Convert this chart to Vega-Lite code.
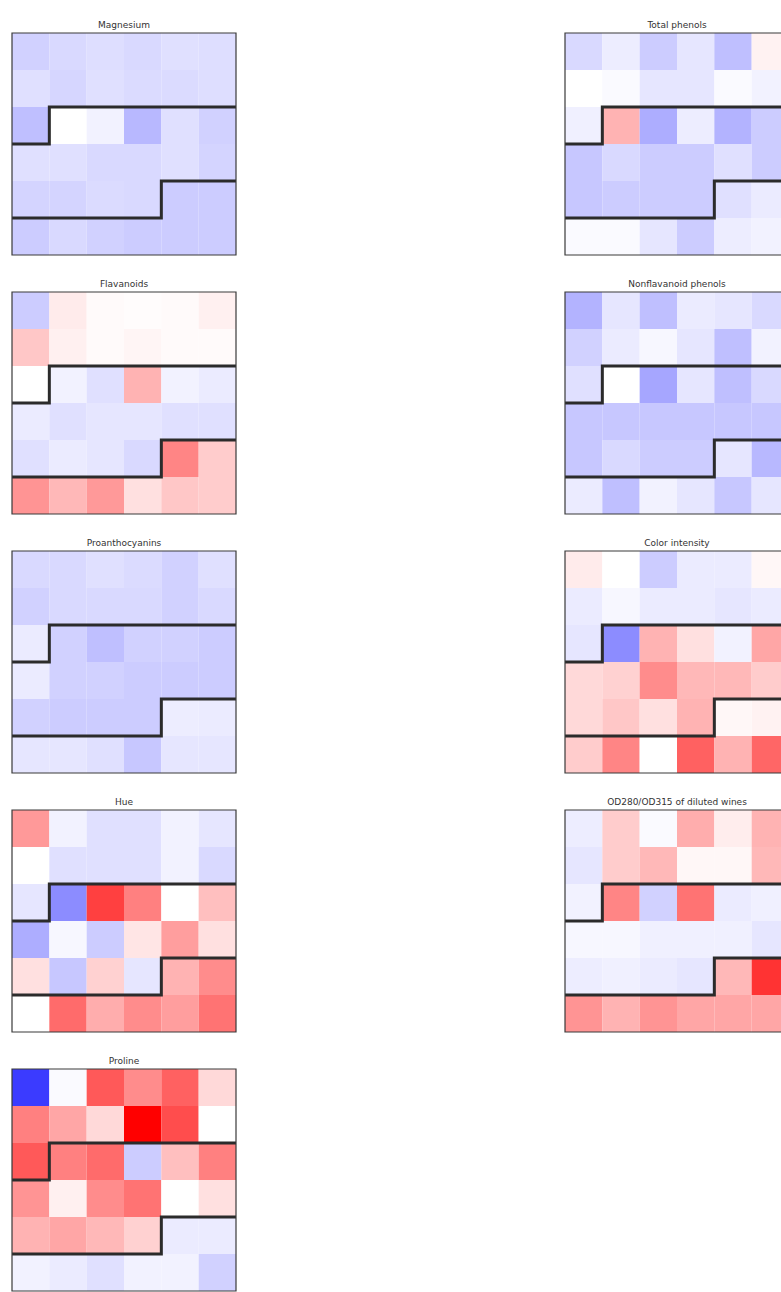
{
  "$schema": "https://vega.github.io/schema/vega-lite/v6.json",
  "padding": {"left": 6, "top": 21, "right": 0, "bottom": 0},
  "bounds": "flush",
  "background": "white",
  "config": {"view": {"stroke": null}},
  "data": {"values": [
      {"feature":"Magnesium","row":0,"col":0,"value":-0.18},{"feature":"Magnesium","row":0,"col":1,"value":-0.15},{"feature":"Magnesium","row":0,"col":2,"value":-0.13},{"feature":"Magnesium","row":0,"col":3,"value":-0.15},{"feature":"Magnesium","row":0,"col":4,"value":-0.12},{"feature":"Magnesium","row":0,"col":5,"value":-0.13},
      {"feature":"Magnesium","row":1,"col":0,"value":-0.12},{"feature":"Magnesium","row":1,"col":1,"value":-0.16},{"feature":"Magnesium","row":1,"col":2,"value":-0.12},{"feature":"Magnesium","row":1,"col":3,"value":-0.14},{"feature":"Magnesium","row":1,"col":4,"value":-0.14},{"feature":"Magnesium","row":1,"col":5,"value":-0.13},
      {"feature":"Magnesium","row":2,"col":0,"value":-0.25},{"feature":"Magnesium","row":2,"col":1,"value":0.0},{"feature":"Magnesium","row":2,"col":2,"value":-0.05},{"feature":"Magnesium","row":2,"col":3,"value":-0.28},{"feature":"Magnesium","row":2,"col":4,"value":-0.12},{"feature":"Magnesium","row":2,"col":5,"value":-0.18},
      {"feature":"Magnesium","row":3,"col":0,"value":-0.12},{"feature":"Magnesium","row":3,"col":1,"value":-0.12},{"feature":"Magnesium","row":3,"col":2,"value":-0.15},{"feature":"Magnesium","row":3,"col":3,"value":-0.15},{"feature":"Magnesium","row":3,"col":4,"value":-0.12},{"feature":"Magnesium","row":3,"col":5,"value":-0.17},
      {"feature":"Magnesium","row":4,"col":0,"value":-0.17},{"feature":"Magnesium","row":4,"col":1,"value":-0.17},{"feature":"Magnesium","row":4,"col":2,"value":-0.14},{"feature":"Magnesium","row":4,"col":3,"value":-0.15},{"feature":"Magnesium","row":4,"col":4,"value":-0.2},{"feature":"Magnesium","row":4,"col":5,"value":-0.2},
      {"feature":"Magnesium","row":5,"col":0,"value":-0.2},{"feature":"Magnesium","row":5,"col":1,"value":-0.15},{"feature":"Magnesium","row":5,"col":2,"value":-0.18},{"feature":"Magnesium","row":5,"col":3,"value":-0.2},{"feature":"Magnesium","row":5,"col":4,"value":-0.2},{"feature":"Magnesium","row":5,"col":5,"value":-0.2},

      {"feature":"Total phenols","row":0,"col":0,"value":-0.15},{"feature":"Total phenols","row":0,"col":1,"value":-0.07},{"feature":"Total phenols","row":0,"col":2,"value":-0.2},{"feature":"Total phenols","row":0,"col":3,"value":-0.1},{"feature":"Total phenols","row":0,"col":4,"value":-0.25},{"feature":"Total phenols","row":0,"col":5,"value":0.05},
      {"feature":"Total phenols","row":1,"col":0,"value":0.0},{"feature":"Total phenols","row":1,"col":1,"value":-0.02},{"feature":"Total phenols","row":1,"col":2,"value":-0.1},{"feature":"Total phenols","row":1,"col":3,"value":-0.1},{"feature":"Total phenols","row":1,"col":4,"value":-0.02},{"feature":"Total phenols","row":1,"col":5,"value":-0.05},
      {"feature":"Total phenols","row":2,"col":0,"value":-0.06},{"feature":"Total phenols","row":2,"col":1,"value":0.3},{"feature":"Total phenols","row":2,"col":2,"value":-0.32},{"feature":"Total phenols","row":2,"col":3,"value":-0.07},{"feature":"Total phenols","row":2,"col":4,"value":-0.3},{"feature":"Total phenols","row":2,"col":5,"value":-0.2},
      {"feature":"Total phenols","row":3,"col":0,"value":-0.22},{"feature":"Total phenols","row":3,"col":1,"value":-0.15},{"feature":"Total phenols","row":3,"col":2,"value":-0.2},{"feature":"Total phenols","row":3,"col":3,"value":-0.2},{"feature":"Total phenols","row":3,"col":4,"value":-0.12},{"feature":"Total phenols","row":3,"col":5,"value":-0.2},
      {"feature":"Total phenols","row":4,"col":0,"value":-0.22},{"feature":"Total phenols","row":4,"col":1,"value":-0.2},{"feature":"Total phenols","row":4,"col":2,"value":-0.2},{"feature":"Total phenols","row":4,"col":3,"value":-0.2},{"feature":"Total phenols","row":4,"col":4,"value":-0.12},{"feature":"Total phenols","row":4,"col":5,"value":-0.08},
      {"feature":"Total phenols","row":5,"col":0,"value":-0.02},{"feature":"Total phenols","row":5,"col":1,"value":-0.02},{"feature":"Total phenols","row":5,"col":2,"value":-0.1},{"feature":"Total phenols","row":5,"col":3,"value":-0.2},{"feature":"Total phenols","row":5,"col":4,"value":-0.07},{"feature":"Total phenols","row":5,"col":5,"value":-0.05},

      {"feature":"Flavanoids","row":0,"col":0,"value":-0.2},{"feature":"Flavanoids","row":0,"col":1,"value":0.08},{"feature":"Flavanoids","row":0,"col":2,"value":0.02},{"feature":"Flavanoids","row":0,"col":3,"value":0.01},{"feature":"Flavanoids","row":0,"col":4,"value":0.02},{"feature":"Flavanoids","row":0,"col":5,"value":0.06},
      {"feature":"Flavanoids","row":1,"col":0,"value":0.22},{"feature":"Flavanoids","row":1,"col":1,"value":0.06},{"feature":"Flavanoids","row":1,"col":2,"value":0.02},{"feature":"Flavanoids","row":1,"col":3,"value":0.04},{"feature":"Flavanoids","row":1,"col":4,"value":0.02},{"feature":"Flavanoids","row":1,"col":5,"value":0.02},
      {"feature":"Flavanoids","row":2,"col":0,"value":0.0},{"feature":"Flavanoids","row":2,"col":1,"value":-0.05},{"feature":"Flavanoids","row":2,"col":2,"value":-0.12},{"feature":"Flavanoids","row":2,"col":3,"value":0.3},{"feature":"Flavanoids","row":2,"col":4,"value":-0.05},{"feature":"Flavanoids","row":2,"col":5,"value":-0.08},
      {"feature":"Flavanoids","row":3,"col":0,"value":-0.08},{"feature":"Flavanoids","row":3,"col":1,"value":-0.12},{"feature":"Flavanoids","row":3,"col":2,"value":-0.1},{"feature":"Flavanoids","row":3,"col":3,"value":-0.1},{"feature":"Flavanoids","row":3,"col":4,"value":-0.12},{"feature":"Flavanoids","row":3,"col":5,"value":-0.12},
      {"feature":"Flavanoids","row":4,"col":0,"value":-0.12},{"feature":"Flavanoids","row":4,"col":1,"value":-0.08},{"feature":"Flavanoids","row":4,"col":2,"value":-0.1},{"feature":"Flavanoids","row":4,"col":3,"value":-0.15},{"feature":"Flavanoids","row":4,"col":4,"value":0.48},{"feature":"Flavanoids","row":4,"col":5,"value":0.2},
      {"feature":"Flavanoids","row":5,"col":0,"value":0.42},{"feature":"Flavanoids","row":5,"col":1,"value":0.28},{"feature":"Flavanoids","row":5,"col":2,"value":0.4},{"feature":"Flavanoids","row":5,"col":3,"value":0.12},{"feature":"Flavanoids","row":5,"col":4,"value":0.22},{"feature":"Flavanoids","row":5,"col":5,"value":0.2},

      {"feature":"Nonflavanoid phenols","row":0,"col":0,"value":-0.3},{"feature":"Nonflavanoid phenols","row":0,"col":1,"value":-0.1},{"feature":"Nonflavanoid phenols","row":0,"col":2,"value":-0.25},{"feature":"Nonflavanoid phenols","row":0,"col":3,"value":-0.08},{"feature":"Nonflavanoid phenols","row":0,"col":4,"value":-0.1},{"feature":"Nonflavanoid phenols","row":0,"col":5,"value":-0.15},
      {"feature":"Nonflavanoid phenols","row":1,"col":0,"value":-0.18},{"feature":"Nonflavanoid phenols","row":1,"col":1,"value":-0.08},{"feature":"Nonflavanoid phenols","row":1,"col":2,"value":-0.03},{"feature":"Nonflavanoid phenols","row":1,"col":3,"value":-0.1},{"feature":"Nonflavanoid phenols","row":1,"col":4,"value":-0.25},{"feature":"Nonflavanoid phenols","row":1,"col":5,"value":-0.05},
      {"feature":"Nonflavanoid phenols","row":2,"col":0,"value":-0.12},{"feature":"Nonflavanoid phenols","row":2,"col":1,"value":0.0},{"feature":"Nonflavanoid phenols","row":2,"col":2,"value":-0.35},{"feature":"Nonflavanoid phenols","row":2,"col":3,"value":-0.1},{"feature":"Nonflavanoid phenols","row":2,"col":4,"value":-0.25},{"feature":"Nonflavanoid phenols","row":2,"col":5,"value":-0.15},
      {"feature":"Nonflavanoid phenols","row":3,"col":0,"value":-0.22},{"feature":"Nonflavanoid phenols","row":3,"col":1,"value":-0.22},{"feature":"Nonflavanoid phenols","row":3,"col":2,"value":-0.22},{"feature":"Nonflavanoid phenols","row":3,"col":3,"value":-0.22},{"feature":"Nonflavanoid phenols","row":3,"col":4,"value":-0.22},{"feature":"Nonflavanoid phenols","row":3,"col":5,"value":-0.22},
      {"feature":"Nonflavanoid phenols","row":4,"col":0,"value":-0.22},{"feature":"Nonflavanoid phenols","row":4,"col":1,"value":-0.15},{"feature":"Nonflavanoid phenols","row":4,"col":2,"value":-0.2},{"feature":"Nonflavanoid phenols","row":4,"col":3,"value":-0.2},{"feature":"Nonflavanoid phenols","row":4,"col":4,"value":-0.1},{"feature":"Nonflavanoid phenols","row":4,"col":5,"value":-0.28},
      {"feature":"Nonflavanoid phenols","row":5,"col":0,"value":-0.08},{"feature":"Nonflavanoid phenols","row":5,"col":1,"value":-0.25},{"feature":"Nonflavanoid phenols","row":5,"col":2,"value":-0.05},{"feature":"Nonflavanoid phenols","row":5,"col":3,"value":-0.1},{"feature":"Nonflavanoid phenols","row":5,"col":4,"value":-0.22},{"feature":"Nonflavanoid phenols","row":5,"col":5,"value":-0.1},

      {"feature":"Proanthocyanins","row":0,"col":0,"value":-0.15},{"feature":"Proanthocyanins","row":0,"col":1,"value":-0.15},{"feature":"Proanthocyanins","row":0,"col":2,"value":-0.12},{"feature":"Proanthocyanins","row":0,"col":3,"value":-0.14},{"feature":"Proanthocyanins","row":0,"col":4,"value":-0.18},{"feature":"Proanthocyanins","row":0,"col":5,"value":-0.12},
      {"feature":"Proanthocyanins","row":1,"col":0,"value":-0.18},{"feature":"Proanthocyanins","row":1,"col":1,"value":-0.15},{"feature":"Proanthocyanins","row":1,"col":2,"value":-0.15},{"feature":"Proanthocyanins","row":1,"col":3,"value":-0.15},{"feature":"Proanthocyanins","row":1,"col":4,"value":-0.18},{"feature":"Proanthocyanins","row":1,"col":5,"value":-0.15},
      {"feature":"Proanthocyanins","row":2,"col":0,"value":-0.08},{"feature":"Proanthocyanins","row":2,"col":1,"value":-0.18},{"feature":"Proanthocyanins","row":2,"col":2,"value":-0.25},{"feature":"Proanthocyanins","row":2,"col":3,"value":-0.18},{"feature":"Proanthocyanins","row":2,"col":4,"value":-0.18},{"feature":"Proanthocyanins","row":2,"col":5,"value":-0.2},
      {"feature":"Proanthocyanins","row":3,"col":0,"value":-0.08},{"feature":"Proanthocyanins","row":3,"col":1,"value":-0.18},{"feature":"Proanthocyanins","row":3,"col":2,"value":-0.18},{"feature":"Proanthocyanins","row":3,"col":3,"value":-0.2},{"feature":"Proanthocyanins","row":3,"col":4,"value":-0.2},{"feature":"Proanthocyanins","row":3,"col":5,"value":-0.2},
      {"feature":"Proanthocyanins","row":4,"col":0,"value":-0.18},{"feature":"Proanthocyanins","row":4,"col":1,"value":-0.2},{"feature":"Proanthocyanins","row":4,"col":2,"value":-0.2},{"feature":"Proanthocyanins","row":4,"col":3,"value":-0.2},{"feature":"Proanthocyanins","row":4,"col":4,"value":-0.07},{"feature":"Proanthocyanins","row":4,"col":5,"value":-0.08},
      {"feature":"Proanthocyanins","row":5,"col":0,"value":-0.1},{"feature":"Proanthocyanins","row":5,"col":1,"value":-0.1},{"feature":"Proanthocyanins","row":5,"col":2,"value":-0.12},{"feature":"Proanthocyanins","row":5,"col":3,"value":-0.22},{"feature":"Proanthocyanins","row":5,"col":4,"value":-0.1},{"feature":"Proanthocyanins","row":5,"col":5,"value":-0.1},

      {"feature":"Color intensity","row":0,"col":0,"value":0.08},{"feature":"Color intensity","row":0,"col":1,"value":0.0},{"feature":"Color intensity","row":0,"col":2,"value":-0.2},{"feature":"Color intensity","row":0,"col":3,"value":-0.08},{"feature":"Color intensity","row":0,"col":4,"value":-0.08},{"feature":"Color intensity","row":0,"col":5,"value":0.03},
      {"feature":"Color intensity","row":1,"col":0,"value":-0.08},{"feature":"Color intensity","row":1,"col":1,"value":-0.03},{"feature":"Color intensity","row":1,"col":2,"value":-0.08},{"feature":"Color intensity","row":1,"col":3,"value":-0.08},{"feature":"Color intensity","row":1,"col":4,"value":-0.1},{"feature":"Color intensity","row":1,"col":5,"value":-0.08},
      {"feature":"Color intensity","row":2,"col":0,"value":-0.1},{"feature":"Color intensity","row":2,"col":1,"value":-0.45},{"feature":"Color intensity","row":2,"col":2,"value":0.3},{"feature":"Color intensity","row":2,"col":3,"value":0.12},{"feature":"Color intensity","row":2,"col":4,"value":-0.05},{"feature":"Color intensity","row":2,"col":5,"value":0.35},
      {"feature":"Color intensity","row":3,"col":0,"value":0.15},{"feature":"Color intensity","row":3,"col":1,"value":0.18},{"feature":"Color intensity","row":3,"col":2,"value":0.45},{"feature":"Color intensity","row":3,"col":3,"value":0.28},{"feature":"Color intensity","row":3,"col":4,"value":0.28},{"feature":"Color intensity","row":3,"col":5,"value":0.2},
      {"feature":"Color intensity","row":4,"col":0,"value":0.15},{"feature":"Color intensity","row":4,"col":1,"value":0.22},{"feature":"Color intensity","row":4,"col":2,"value":0.12},{"feature":"Color intensity","row":4,"col":3,"value":0.3},{"feature":"Color intensity","row":4,"col":4,"value":0.03},{"feature":"Color intensity","row":4,"col":5,"value":0.05},
      {"feature":"Color intensity","row":5,"col":0,"value":0.2},{"feature":"Color intensity","row":5,"col":1,"value":0.48},{"feature":"Color intensity","row":5,"col":2,"value":0.0},{"feature":"Color intensity","row":5,"col":3,"value":0.62},{"feature":"Color intensity","row":5,"col":4,"value":0.3},{"feature":"Color intensity","row":5,"col":5,"value":0.6},

      {"feature":"Hue","row":0,"col":0,"value":0.4},{"feature":"Hue","row":0,"col":1,"value":-0.05},{"feature":"Hue","row":0,"col":2,"value":-0.12},{"feature":"Hue","row":0,"col":3,"value":-0.12},{"feature":"Hue","row":0,"col":4,"value":-0.05},{"feature":"Hue","row":0,"col":5,"value":-0.1},
      {"feature":"Hue","row":1,"col":0,"value":0.0},{"feature":"Hue","row":1,"col":1,"value":-0.12},{"feature":"Hue","row":1,"col":2,"value":-0.12},{"feature":"Hue","row":1,"col":3,"value":-0.12},{"feature":"Hue","row":1,"col":4,"value":-0.05},{"feature":"Hue","row":1,"col":5,"value":-0.15},
      {"feature":"Hue","row":2,"col":0,"value":-0.1},{"feature":"Hue","row":2,"col":1,"value":-0.45},{"feature":"Hue","row":2,"col":2,"value":0.75},{"feature":"Hue","row":2,"col":3,"value":0.5},{"feature":"Hue","row":2,"col":4,"value":0.0},{"feature":"Hue","row":2,"col":5,"value":0.25},
      {"feature":"Hue","row":3,"col":0,"value":-0.32},{"feature":"Hue","row":3,"col":1,"value":-0.03},{"feature":"Hue","row":3,"col":2,"value":-0.2},{"feature":"Hue","row":3,"col":3,"value":0.1},{"feature":"Hue","row":3,"col":4,"value":0.38},{"feature":"Hue","row":3,"col":5,"value":0.12},
      {"feature":"Hue","row":4,"col":0,"value":0.12},{"feature":"Hue","row":4,"col":1,"value":-0.22},{"feature":"Hue","row":4,"col":2,"value":0.18},{"feature":"Hue","row":4,"col":3,"value":-0.1},{"feature":"Hue","row":4,"col":4,"value":0.3},{"feature":"Hue","row":4,"col":5,"value":0.45},
      {"feature":"Hue","row":5,"col":0,"value":0.0},{"feature":"Hue","row":5,"col":1,"value":0.58},{"feature":"Hue","row":5,"col":2,"value":0.32},{"feature":"Hue","row":5,"col":3,"value":0.45},{"feature":"Hue","row":5,"col":4,"value":0.38},{"feature":"Hue","row":5,"col":5,"value":0.55},

      {"feature":"OD280/OD315 of diluted wines","row":0,"col":0,"value":-0.07},{"feature":"OD280/OD315 of diluted wines","row":0,"col":1,"value":0.2},{"feature":"OD280/OD315 of diluted wines","row":0,"col":2,"value":-0.02},{"feature":"OD280/OD315 of diluted wines","row":0,"col":3,"value":0.32},{"feature":"OD280/OD315 of diluted wines","row":0,"col":4,"value":0.07},{"feature":"OD280/OD315 of diluted wines","row":0,"col":5,"value":0.3},
      {"feature":"OD280/OD315 of diluted wines","row":1,"col":0,"value":-0.1},{"feature":"OD280/OD315 of diluted wines","row":1,"col":1,"value":0.2},{"feature":"OD280/OD315 of diluted wines","row":1,"col":2,"value":0.28},{"feature":"OD280/OD315 of diluted wines","row":1,"col":3,"value":0.03},{"feature":"OD280/OD315 of diluted wines","row":1,"col":4,"value":0.03},{"feature":"OD280/OD315 of diluted wines","row":1,"col":5,"value":0.28},
      {"feature":"OD280/OD315 of diluted wines","row":2,"col":0,"value":-0.05},{"feature":"OD280/OD315 of diluted wines","row":2,"col":1,"value":0.48},{"feature":"OD280/OD315 of diluted wines","row":2,"col":2,"value":-0.18},{"feature":"OD280/OD315 of diluted wines","row":2,"col":3,"value":0.55},{"feature":"OD280/OD315 of diluted wines","row":2,"col":4,"value":-0.08},{"feature":"OD280/OD315 of diluted wines","row":2,"col":5,"value":-0.06},
      {"feature":"OD280/OD315 of diluted wines","row":3,"col":0,"value":-0.03},{"feature":"OD280/OD315 of diluted wines","row":3,"col":1,"value":-0.03},{"feature":"OD280/OD315 of diluted wines","row":3,"col":2,"value":-0.06},{"feature":"OD280/OD315 of diluted wines","row":3,"col":3,"value":-0.06},{"feature":"OD280/OD315 of diluted wines","row":3,"col":4,"value":-0.06},{"feature":"OD280/OD315 of diluted wines","row":3,"col":5,"value":-0.1},
      {"feature":"OD280/OD315 of diluted wines","row":4,"col":0,"value":-0.07},{"feature":"OD280/OD315 of diluted wines","row":4,"col":1,"value":-0.06},{"feature":"OD280/OD315 of diluted wines","row":4,"col":2,"value":-0.08},{"feature":"OD280/OD315 of diluted wines","row":4,"col":3,"value":-0.1},{"feature":"OD280/OD315 of diluted wines","row":4,"col":4,"value":0.28},{"feature":"OD280/OD315 of diluted wines","row":4,"col":5,"value":0.8},
      {"feature":"OD280/OD315 of diluted wines","row":5,"col":0,"value":0.42},{"feature":"OD280/OD315 of diluted wines","row":5,"col":1,"value":0.3},{"feature":"OD280/OD315 of diluted wines","row":5,"col":2,"value":0.42},{"feature":"OD280/OD315 of diluted wines","row":5,"col":3,"value":0.35},{"feature":"OD280/OD315 of diluted wines","row":5,"col":4,"value":0.35},{"feature":"OD280/OD315 of diluted wines","row":5,"col":5,"value":0.35},

      {"feature":"Proline","row":0,"col":0,"value":-0.77},{"feature":"Proline","row":0,"col":1,"value":-0.02},{"feature":"Proline","row":0,"col":2,"value":0.65},{"feature":"Proline","row":0,"col":3,"value":0.45},{"feature":"Proline","row":0,"col":4,"value":0.62},{"feature":"Proline","row":0,"col":5,"value":0.15},
      {"feature":"Proline","row":1,"col":0,"value":0.5},{"feature":"Proline","row":1,"col":1,"value":0.35},{"feature":"Proline","row":1,"col":2,"value":0.15},{"feature":"Proline","row":1,"col":3,"value":1.0},{"feature":"Proline","row":1,"col":4,"value":0.7},{"feature":"Proline","row":1,"col":5,"value":0.0},
      {"feature":"Proline","row":2,"col":0,"value":0.65},{"feature":"Proline","row":2,"col":1,"value":0.5},{"feature":"Proline","row":2,"col":2,"value":0.58},{"feature":"Proline","row":2,"col":3,"value":-0.2},{"feature":"Proline","row":2,"col":4,"value":0.25},{"feature":"Proline","row":2,"col":5,"value":0.5},
      {"feature":"Proline","row":3,"col":0,"value":0.42},{"feature":"Proline","row":3,"col":1,"value":0.06},{"feature":"Proline","row":3,"col":2,"value":0.45},{"feature":"Proline","row":3,"col":3,"value":0.55},{"feature":"Proline","row":3,"col":4,"value":0.0},{"feature":"Proline","row":3,"col":5,"value":0.12},
      {"feature":"Proline","row":4,"col":0,"value":0.3},{"feature":"Proline","row":4,"col":1,"value":0.35},{"feature":"Proline","row":4,"col":2,"value":0.28},{"feature":"Proline","row":4,"col":3,"value":0.18},{"feature":"Proline","row":4,"col":4,"value":-0.08},{"feature":"Proline","row":4,"col":5,"value":-0.08},
      {"feature":"Proline","row":5,"col":0,"value":-0.05},{"feature":"Proline","row":5,"col":1,"value":-0.08},{"feature":"Proline","row":5,"col":2,"value":-0.12},{"feature":"Proline","row":5,"col":3,"value":-0.05},{"feature":"Proline","row":5,"col":4,"value":-0.05},{"feature":"Proline","row":5,"col":5,"value":-0.18},

      {"feature":"Magnesium","line":"a","seq":0,"lx":0,"ly":3},{"feature":"Magnesium","line":"a","seq":1,"lx":1,"ly":3},{"feature":"Magnesium","line":"a","seq":2,"lx":1,"ly":2},{"feature":"Magnesium","line":"a","seq":3,"lx":6,"ly":2},
      {"feature":"Magnesium","line":"b","seq":0,"lx":0,"ly":5},{"feature":"Magnesium","line":"b","seq":1,"lx":4,"ly":5},{"feature":"Magnesium","line":"b","seq":2,"lx":4,"ly":4},{"feature":"Magnesium","line":"b","seq":3,"lx":6,"ly":4},
      {"feature":"Total phenols","line":"a","seq":0,"lx":0,"ly":3},{"feature":"Total phenols","line":"a","seq":1,"lx":1,"ly":3},{"feature":"Total phenols","line":"a","seq":2,"lx":1,"ly":2},{"feature":"Total phenols","line":"a","seq":3,"lx":6,"ly":2},
      {"feature":"Total phenols","line":"b","seq":0,"lx":0,"ly":5},{"feature":"Total phenols","line":"b","seq":1,"lx":4,"ly":5},{"feature":"Total phenols","line":"b","seq":2,"lx":4,"ly":4},{"feature":"Total phenols","line":"b","seq":3,"lx":6,"ly":4},
      {"feature":"Flavanoids","line":"a","seq":0,"lx":0,"ly":3},{"feature":"Flavanoids","line":"a","seq":1,"lx":1,"ly":3},{"feature":"Flavanoids","line":"a","seq":2,"lx":1,"ly":2},{"feature":"Flavanoids","line":"a","seq":3,"lx":6,"ly":2},
      {"feature":"Flavanoids","line":"b","seq":0,"lx":0,"ly":5},{"feature":"Flavanoids","line":"b","seq":1,"lx":4,"ly":5},{"feature":"Flavanoids","line":"b","seq":2,"lx":4,"ly":4},{"feature":"Flavanoids","line":"b","seq":3,"lx":6,"ly":4},
      {"feature":"Nonflavanoid phenols","line":"a","seq":0,"lx":0,"ly":3},{"feature":"Nonflavanoid phenols","line":"a","seq":1,"lx":1,"ly":3},{"feature":"Nonflavanoid phenols","line":"a","seq":2,"lx":1,"ly":2},{"feature":"Nonflavanoid phenols","line":"a","seq":3,"lx":6,"ly":2},
      {"feature":"Nonflavanoid phenols","line":"b","seq":0,"lx":0,"ly":5},{"feature":"Nonflavanoid phenols","line":"b","seq":1,"lx":4,"ly":5},{"feature":"Nonflavanoid phenols","line":"b","seq":2,"lx":4,"ly":4},{"feature":"Nonflavanoid phenols","line":"b","seq":3,"lx":6,"ly":4},
      {"feature":"Proanthocyanins","line":"a","seq":0,"lx":0,"ly":3},{"feature":"Proanthocyanins","line":"a","seq":1,"lx":1,"ly":3},{"feature":"Proanthocyanins","line":"a","seq":2,"lx":1,"ly":2},{"feature":"Proanthocyanins","line":"a","seq":3,"lx":6,"ly":2},
      {"feature":"Proanthocyanins","line":"b","seq":0,"lx":0,"ly":5},{"feature":"Proanthocyanins","line":"b","seq":1,"lx":4,"ly":5},{"feature":"Proanthocyanins","line":"b","seq":2,"lx":4,"ly":4},{"feature":"Proanthocyanins","line":"b","seq":3,"lx":6,"ly":4},
      {"feature":"Color intensity","line":"a","seq":0,"lx":0,"ly":3},{"feature":"Color intensity","line":"a","seq":1,"lx":1,"ly":3},{"feature":"Color intensity","line":"a","seq":2,"lx":1,"ly":2},{"feature":"Color intensity","line":"a","seq":3,"lx":6,"ly":2},
      {"feature":"Color intensity","line":"b","seq":0,"lx":0,"ly":5},{"feature":"Color intensity","line":"b","seq":1,"lx":4,"ly":5},{"feature":"Color intensity","line":"b","seq":2,"lx":4,"ly":4},{"feature":"Color intensity","line":"b","seq":3,"lx":6,"ly":4},
      {"feature":"Hue","line":"a","seq":0,"lx":0,"ly":3},{"feature":"Hue","line":"a","seq":1,"lx":1,"ly":3},{"feature":"Hue","line":"a","seq":2,"lx":1,"ly":2},{"feature":"Hue","line":"a","seq":3,"lx":6,"ly":2},
      {"feature":"Hue","line":"b","seq":0,"lx":0,"ly":5},{"feature":"Hue","line":"b","seq":1,"lx":4,"ly":5},{"feature":"Hue","line":"b","seq":2,"lx":4,"ly":4},{"feature":"Hue","line":"b","seq":3,"lx":6,"ly":4},
      {"feature":"OD280/OD315 of diluted wines","line":"a","seq":0,"lx":0,"ly":3},{"feature":"OD280/OD315 of diluted wines","line":"a","seq":1,"lx":1,"ly":3},{"feature":"OD280/OD315 of diluted wines","line":"a","seq":2,"lx":1,"ly":2},{"feature":"OD280/OD315 of diluted wines","line":"a","seq":3,"lx":6,"ly":2},
      {"feature":"OD280/OD315 of diluted wines","line":"b","seq":0,"lx":0,"ly":5},{"feature":"OD280/OD315 of diluted wines","line":"b","seq":1,"lx":4,"ly":5},{"feature":"OD280/OD315 of diluted wines","line":"b","seq":2,"lx":4,"ly":4},{"feature":"OD280/OD315 of diluted wines","line":"b","seq":3,"lx":6,"ly":4},
      {"feature":"Proline","line":"a","seq":0,"lx":0,"ly":3},{"feature":"Proline","line":"a","seq":1,"lx":1,"ly":3},{"feature":"Proline","line":"a","seq":2,"lx":1,"ly":2},{"feature":"Proline","line":"a","seq":3,"lx":6,"ly":2},
      {"feature":"Proline","line":"b","seq":0,"lx":0,"ly":5},{"feature":"Proline","line":"b","seq":1,"lx":4,"ly":5},{"feature":"Proline","line":"b","seq":2,"lx":4,"ly":4},{"feature":"Proline","line":"b","seq":3,"lx":6,"ly":4}
  ]},
  "facet": {
    "field": "feature",
    "type": "nominal",
    "sort": ["Magnesium","Total phenols","Flavanoids","Nonflavanoid phenols","Proanthocyanins","Color intensity","Hue","OD280/OD315 of diluted wines","Proline"],
    "header": {"title": null, "labelFont": "DejaVu Sans", "labelFontSize": 9, "labelColor": "#333333", "labelPadding": 2}
  },
  "columns": 2,
  "spacing": {"column": 329, "row": 37},
  "spec": {
    "width": 224,
    "height": 222,
    "layer": [
      {
        "transform": [{"filter": "isValid(datum.value)"}],
        "mark": {"type": "rect", "strokeWidth": 0},
        "encoding": {
          "x": {"field": "col", "type": "ordinal", "axis": null, "scale": {"paddingInner": 0, "paddingOuter": 0}},
          "y": {"field": "row", "type": "ordinal", "axis": null, "scale": {"paddingInner": 0, "paddingOuter": 0}},
          "color": {"field": "value", "type": "quantitative", "legend": null,
            "scale": {"domain": [-1, 0, 1], "range": ["#0000ff", "#ffffff", "#ff0000"], "interpolate": "rgb"}}
        }
      },
      {
        "transform": [{"filter": "isValid(datum.lx)"}],
        "mark": {"type": "line", "color": "#2b2b2b", "strokeWidth": 3, "strokeCap": "butt", "strokeJoin": "miter"},
        "encoding": {
          "x": {"field": "lx", "type": "quantitative", "axis": null, "scale": {"domain": [0, 6], "nice": false, "zero": false}},
          "y": {"field": "ly", "type": "quantitative", "axis": null, "scale": {"domain": [0, 6], "nice": false, "zero": false, "reverse": true}},
          "detail": {"field": "line", "type": "nominal"},
          "order": {"field": "seq", "type": "quantitative"}
        }
      },
      {
        "transform": [{"filter": "isValid(datum.value)"}, {"filter": "datum.row == 0 && datum.col == 0"}],
        "mark": {"type": "rect", "fill": null, "stroke": "#3a3a3a", "strokeWidth": 1.2},
        "encoding": {}
      }
    ],
    "resolve": {"scale": {"x": "independent", "y": "independent"}}
  }
}
